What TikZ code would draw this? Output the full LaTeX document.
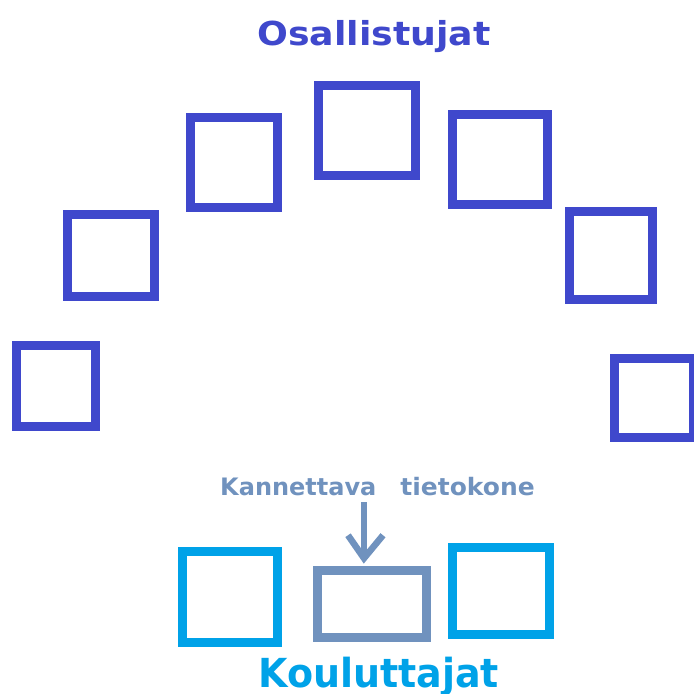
\documentclass[tikz,border=0pt]{standalone}
\usepackage{fontspec}
\setmainfont{DejaVu Sans}
\usetikzlibrary{calc}
\definecolor{indigo}{HTML}{3F48CC}
\definecolor{turq}{HTML}{00A2E8}
\definecolor{steel}{HTML}{7092BE}
\tikzset{
  sq/.style={draw=indigo, line width=9.5pt, inner sep=0pt, fill=none},
  ksq/.style={draw=turq, line width=9.5pt, inner sep=0pt},
  lap/.style={draw=steel, line width=9.5pt, inner sep=0pt},
  lbl/.style={anchor=base west, inner sep=0pt, font=\bfseries},
  arr/.style={draw=steel, line width=6.5pt},
}
\begin{document}
\begin{tikzpicture}[x=1pt,y=-1pt]
\useasboundingbox (0,0) rectangle (694,694);
\clip (0,0) rectangle (694,694);
% participants
\node[sq, minimum width=79pt, minimum height=81pt] (p1) at (56,386) {};
\node[sq, minimum width=87pt, minimum height=82pt] (p2) at (111,255.5) {};
\node[sq, minimum width=87pt, minimum height=90pt] (p3) at (234,162.5) {};
\node[sq, minimum width=97pt, minimum height=90pt] (p4) at (367,130.5) {};
\node[sq, minimum width=95pt, minimum height=90pt] (p5) at (500,159.5) {};
\node[sq, minimum width=83pt, minimum height=88pt] (p6) at (611,255.5) {};
\node[sq, minimum width=79pt, minimum height=79pt] (p7) at (654,398) {};
% trainers + laptop
\node[ksq, minimum width=95pt, minimum height=91pt] (k1) at (230,597) {};
\node[lap, minimum width=109pt, minimum height=67pt] (laptop) at (372,604) {};
\node[ksq, minimum width=97pt, minimum height=87pt] (k2) at (501,591) {};
% texts
\node[lbl, text=indigo] (title) at (257,45.5) {\fontsize{33}{33}\selectfont\scalebox{1.1}[1]{Osallistujat}};
\node[lbl, text=steel] (kt) at (220,495.5) {\fontsize{24}{24}\selectfont Kannettava\hspace{24pt}\scalebox{1.04}[1]{tietokone}};
\node[lbl, text=turq] (kou) at (258,687) {\fontsize{40}{40}\selectfont\scalebox{0.95}[1]{Kouluttajat}};
% arrow
\coordinate (atail) at (364,502);
\coordinate (atip) at ($(laptop.north -| atail)+(0,-7.5)$);
\draw[arr] (atail) -- (atip);
\draw[arr, line join=miter] ($(atip)+(-16,-23)$) -- (atip) -- ($(atip)+(19,-23)$);
\end{tikzpicture}
\end{document}
